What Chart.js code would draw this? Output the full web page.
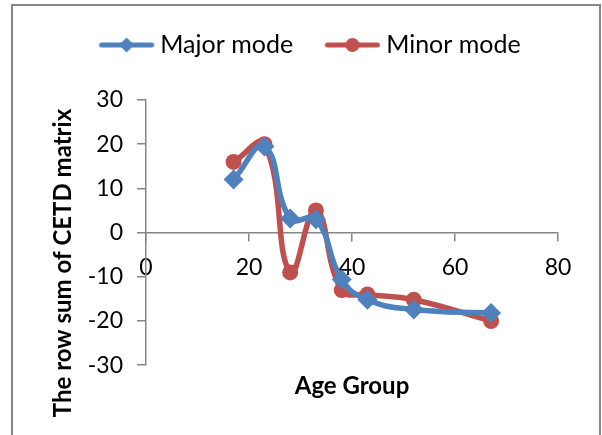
<!DOCTYPE html>
<html>
<head>
<meta charset="utf-8">
<script src="https://cdn.jsdelivr.net/npm/chart.js@4.4.0/dist/chart.umd.min.js"></script>
<style>
  html, body { margin: 0; padding: 0; background: #fff; }
  #wrap { width: 602px; height: 435px; }
</style>
</head>
<body>
<div id="wrap"><canvas id="my-chart"></canvas></div>
<script>
const ageGroups = [17, 23, 28, 33, 38, 43, 52, 67];
const majorMode = [12, 19.5, 3.2, 3, -10.6, -15.2, -17.4, -18.2];
const minorMode = [16, 20, -9, 5, -13, -14, -15.2, -20];
const xTicks = [0, 20, 40, 60, 80];
const yTicks = [-30, -20, -10, 0, 10, 20, 30];

const seriesNames = ["Major mode", "Minor mode"];
const xTitle = "Age Group";
const yTitle = "The row sum of CETD matrix";

const BLUE = "#4f81bd";
const RED = "#c0504d";
const AXIS = "#868686";
const FONT = "Lato, 'Noto Sans', sans-serif";

function toPoints(values) {
  return ageGroups.map((x, i) => ({ x: x, y: values[i] }));
}

// legend swatch: short line with the series marker in the middle,
// sitting in the right part of a wider canvas so it ends just before the text
function legendSwatch(color, marker) {
  const c = document.createElement("canvas");
  c.width = 84;
  c.height = 22;
  const g = c.getContext("2d");
  g.strokeStyle = color;
  g.lineWidth = 5;
  g.lineCap = "round";
  g.beginPath();
  g.moveTo(31, 11);
  g.lineTo(81, 11);
  g.stroke();
  g.fillStyle = color;
  g.beginPath();
  const cx = 56;
  if (marker === "diamond") {
    g.moveTo(cx, 3.5); g.lineTo(cx + 7.5, 11); g.lineTo(cx, 18.5); g.lineTo(cx - 7.5, 11);
    g.closePath();
  } else {
    g.arc(cx, 11, 7, 0, Math.PI * 2);
  }
  g.fill();
  return c;
}

const swatches = [legendSwatch(BLUE, "diamond"), legendSwatch(RED, "circle")];

// extra room between the legend and the plot
const legendGap = {
  id: "legendGap",
  beforeInit(chart) {
    const fit = chart.legend.fit;
    chart.legend.fit = function () {
      fit.call(this);
      this.height += 32.5;
    };
  }
};

// grey outline round the whole chart
const frame = {
  id: "frame",
  beforeDraw(chart) {
    const ctx = chart.ctx;
    ctx.save();
    ctx.strokeStyle = AXIS;
    ctx.lineWidth = 2;
    ctx.strokeRect(12, 5, 588, 450);
    ctx.restore();
  }
};

// vertical axis title, drawn bottom-to-top
const yAxisTitle = {
  id: "yAxisTitle",
  afterDraw(chart) {
    const ctx = chart.ctx;
    ctx.save();
    ctx.translate(63.5, 263);
    ctx.rotate(-Math.PI / 2);
    ctx.font = "bold 24px " + FONT;
    ctx.fillStyle = "#000";
    ctx.textAlign = "center";
    ctx.textBaseline = "middle";
    ctx.fillText(yTitle, 0, 0);
    ctx.restore();
  }
};

const tickFont = { family: FONT, size: 23 };

const ctx = document.getElementById("my-chart").getContext("2d");
const chart = new Chart(ctx, {
  type: "scatter",
  data: {
    datasets: [
      {
        label: seriesNames[0],
        data: toPoints(majorMode),
        xAxisID: "x",
        yAxisID: "y",
        showLine: true,
        tension: 0.45,
        borderColor: BLUE,
        backgroundColor: BLUE,
        borderWidth: 5.5,
        pointStyle: "rectRot",
        pointRadius: 10,
        pointHoverRadius: 10,
        pointBorderWidth: 0,
      },
      {
        label: seriesNames[1],
        data: toPoints(minorMode),
        xAxisID: "x",
        yAxisID: "y",
        showLine: true,
        tension: 0.45,
        borderColor: RED,
        backgroundColor: RED,
        borderWidth: 5.5,
        pointStyle: "circle",
        pointRadius: 8,
        pointHoverRadius: 8,
        pointBorderWidth: 0,
      },
    ],
  },
  options: {
    responsive: true,
    maintainAspectRatio: false,
    animation: false,
    layout: { padding: { left: 40, right: 44, top: 22.5, bottom: 0 } },
    plugins: {
      tooltip: { enabled: false },
      legend: {
        display: true,
        position: "top",
        labels: {
          usePointStyle: true,
          pointStyleWidth: 70.5,
          padding: 10,
          color: "#000",
          font: { family: FONT, size: 25 },
          generateLabels: (c) =>
            c.data.datasets.map((ds, i) => ({
              text: ds.label,
              pointStyle: swatches[i],
              fillStyle: ds.borderColor,
              strokeStyle: ds.borderColor,
              lineWidth: 0,
              hidden: false,
              datasetIndex: i,
              fontColor: "#000",
            })),
        },
      },
    },
    scales: {
      x: {
        type: "linear",
        position: { y: 0 },
        min: 0,
        max: 80,
        afterBuildTicks: (axis) => { axis.ticks = xTicks.map((v) => ({ value: v })); },
        grid: { drawOnChartArea: false, tickLength: 8, color: AXIS, lineWidth: 1.5 },
        border: { color: AXIS, width: 1.5 },
        ticks: { padding: 13, color: "#000", font: tickFont },
      },
      xTitle: {
        type: "linear",
        position: "bottom",
        min: 0,
        max: 80,
        grid: { display: false, drawTicks: false },
        border: { display: false },
        ticks: { display: false },
        title: {
          display: true,
          text: xTitle,
          color: "#000",
          font: { family: FONT, size: 24, weight: "bold" },
          padding: { top: 7, bottom: 34 },
        },
      },
      y: {
        type: "linear",
        position: "left",
        min: -30,
        max: 30,
        afterBuildTicks: (axis) => { axis.ticks = yTicks.map((v) => ({ value: v })); },
        afterFit: (axis) => { axis.width = 106; },
        grid: { drawOnChartArea: false, tickLength: 9, color: AXIS, lineWidth: 1.5 },
        border: { color: AXIS, width: 1.5 },
        ticks: { padding: 14, color: "#000", font: tickFont },
      },
    },
  },
  plugins: [legendGap, frame, yAxisTitle],
});
</script>
</body>
</html>
